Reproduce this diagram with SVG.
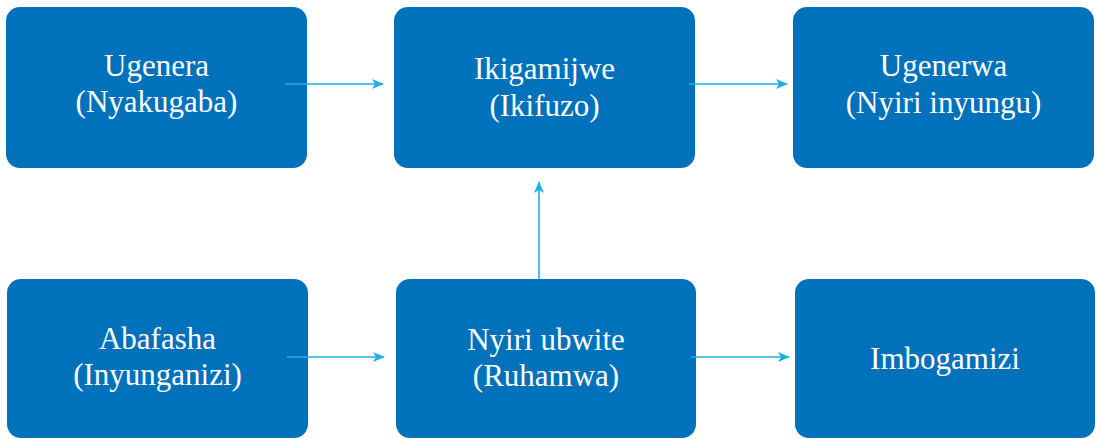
<svg xmlns="http://www.w3.org/2000/svg" width="1096" height="439" viewBox="0 0 1096 439">
<defs>
<style>
.box{fill:#0071BB;}
.t{font-family:"Liberation Serif","DejaVu Serif",serif;font-size:31px;fill:#FFFFFF;text-anchor:middle;}
.c{stroke:#1FB0E8;stroke-width:1.6;fill:none;marker-end:url(#ah);}
</style>
<marker id="ah" viewBox="0 0 12 10" refX="11" refY="5" markerWidth="12" markerHeight="10" markerUnits="userSpaceOnUse" orient="auto">
<path d="M0,0 L12,5 L0,10 L3,5 Z" fill="#1FB0E8"/>
</marker>
</defs>
<rect width="1096" height="439" fill="#FFFFFF"/>
<g id="n1"><rect class="box" x="6" y="7" width="301" height="161" rx="14"/><text class="t" x="156.5" y="76">Ugenera</text><text class="t" x="156.5" y="112">(Nyakugaba)</text></g>
<g id="n2"><rect class="box" x="394" y="7" width="301" height="161" rx="14"/><text class="t" x="544.5" y="79">Ikigamijwe</text><text class="t" x="544.5" y="116">(Ikifuzo)</text></g>
<g id="n3"><rect class="box" x="793" y="7" width="301" height="161" rx="14"/><text class="t" x="943.5" y="76">Ugenerwa</text><text class="t" x="943.5" y="113">(Nyiri inyungu)</text></g>
<g id="n4"><rect class="box" x="7" y="279" width="301" height="159" rx="14"/><text class="t" x="157.5" y="349">Abafasha</text><text class="t" x="157.5" y="385">(Inyunganizi)</text></g>
<g id="n5"><rect class="box" x="396" y="279" width="300" height="159" rx="14"/><text class="t" x="546" y="350">Nyiri ubwite</text><text class="t" x="546" y="386">(Ruhamwa)</text></g>
<g id="n6"><rect class="box" x="795" y="279" width="300" height="159" rx="14"/><text class="t" x="945" y="369">Imbogamizi</text></g>
<g id="connectors">
<line class="c" x1="285" y1="84" x2="383" y2="84"/>
<line class="c" x1="689" y1="84" x2="787" y2="84"/>
<line class="c" x1="539" y1="279" x2="539" y2="182"/>
<line class="c" x1="287" y1="357" x2="384" y2="357"/>
<line class="c" x1="691" y1="357" x2="789" y2="357"/>
</g>
</svg>
